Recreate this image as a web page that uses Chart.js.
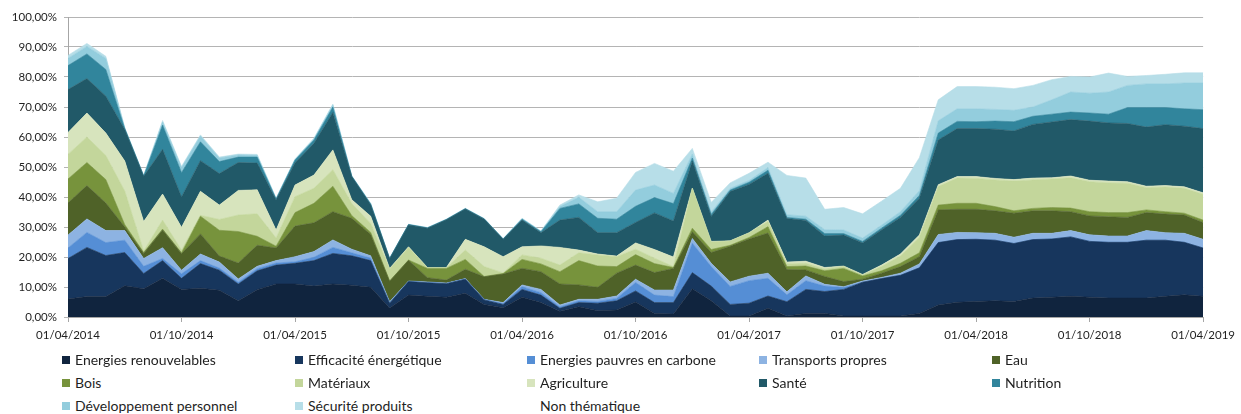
<!DOCTYPE html>
<html><head><meta charset="utf-8">
<script src="https://cdn.jsdelivr.net/npm/chart.js@4.4.0/dist/chart.umd.min.js"></script>
<style>
html,body{margin:0;padding:0;background:#fff;}
#wrap{position:relative;width:1241px;height:414px;overflow:hidden;}
#cbox{position:absolute;left:0;top:0;width:1241px;height:352px;}
.lg{position:absolute;font:14px Lato, sans-serif;color:#1f1f1f;white-space:nowrap;line-height:16px;}
.lg i{position:absolute;left:-13px;top:4px;width:8px;height:8px;}
</style></head><body>
<div id="wrap"><div id="cbox"><canvas id="c"></canvas></div><div id="legend"></div></div>
<script>
const months = ['01/04/2014','01/05/2014','01/06/2014','01/07/2014','01/08/2014','01/09/2014','01/10/2014','01/11/2014','01/12/2014',
'01/01/2015','01/02/2015','01/03/2015','01/04/2015','01/05/2015','01/06/2015','01/07/2015','01/08/2015','01/09/2015','01/10/2015','01/11/2015','01/12/2015',
'01/01/2016','01/02/2016','01/03/2016','01/04/2016','01/05/2016','01/06/2016','01/07/2016','01/08/2016','01/09/2016','01/10/2016','01/11/2016','01/12/2016',
'01/01/2017','01/02/2017','01/03/2017','01/04/2017','01/05/2017','01/06/2017','01/07/2017','01/08/2017','01/09/2017','01/10/2017','01/11/2017','01/12/2017',
'01/01/2018','01/02/2018','01/03/2018','01/04/2018','01/05/2018','01/06/2018','01/07/2018','01/08/2018','01/09/2018','01/10/2018','01/11/2018','01/12/2018',
'01/01/2019','01/02/2019','01/03/2019','01/04/2019'];

const seriesNames = ['Energies renouvelables','Efficacité énergétique','Energies pauvres en carbone','Transports propres','Eau',
'Bois','Matériaux','Agriculture','Santé','Nutrition','Développement personnel','Sécurité produits','Non thématique'];
const seriesColors = ['#10243e','#17365d','#558ed5','#8db3e2','#4f6228','#77933c','#c3d69b','#d7e4bd','#215968','#31859c','#93cddd','#b7dee8','rgba(0,0,0,0)'];

const energiesRenouvelables = [6,6.8,6.8,10.4,9.4,12.9,9.2,9.6,8.9,5.4,
9.1,11,11,10.3,11,10.6,9.9,3,7.3,6.9,
6.6,7.9,4.2,3.1,6.6,4.8,1.9,3.4,2.1,2.3,
5,1.2,1,9.4,5.4,0.3,0.3,2.9,0.3,1.2,
1.2,0.3,0.3,0.3,0.3,1.2,4,4.9,5.2,5.4,
5.2,6.3,6.6,6.9,6.6,6.3,6.3,6.3,6.9,7.4,6.9];
const efficaciteEnergetique = [13.5,16.4,13.7,11.1,5.1,5.9,3.7,8.2,6.7,5.6,
6.3,6.3,6.9,8.5,10.2,9.8,8.9,1.6,4.5,4.5,
4.5,4.7,1.5,1.1,2.6,2.5,1,1.4,2.5,3.1,
3.7,3.6,3.8,5.4,4.9,3.9,4.3,4.1,4.8,8,
7.3,8.9,11.3,12.5,13.6,15.2,20.8,20.9,20.7,20.2,
19.3,19.5,19.4,19.8,18.6,18.6,18.6,19.3,18.7,17.5,16.1];
const energiesPauvresCarbone = [3.5,5,4.3,4.1,2.4,0.7,1.5,1,0.7,0.6,
0.7,0.7,0.5,1.1,2,1,0.8,0.2,0.1,0.1,
0.1,0.1,0.1,0.3,0.9,0.8,0.5,0.6,0.6,0.8,
2.8,2.5,2,9.8,6.5,6,7.5,5.9,2.3,2.9,
1.8,0.6,0,0,0,0,0,0,0,0,
0,0,0,0,0,0,0,0,0,0,0];
const transportsPropres = [4.3,4.5,4,3.2,2.6,3.6,1.2,2.2,2,1.1,
0.8,0.8,1.7,1.9,2.5,1.2,0.8,0.3,0.1,0.2,
0.1,0.1,0.1,0.3,0.6,1.1,0.6,0.5,0.7,0.8,
1.1,1.7,2.2,1.6,1.1,1.5,1.5,1.7,1,1.6,
0.6,0.3,0.4,0.4,0.7,1.3,2.7,2.4,2.2,2.3,
2.1,2.1,1.9,2.1,2.2,2.1,2.1,3.2,2.5,3,2.9];
const eau = [10.7,11.1,9.2,1.2,1.7,5.9,5.5,6.7,2,5.3,
7,4.2,10.2,9.6,9.4,10.3,7.1,6.8,6.9,1.4,
1,3.1,7.5,9.5,5.5,5.9,7,4.8,4,7.6,
4.7,5.8,7.2,2.2,3.6,11.9,12.4,13.4,7.4,2,
2.6,1.7,0.6,1.4,2.2,2.4,8.2,7.7,7.8,7.5,
8,7.5,7.5,6.3,6.3,6.4,6.2,6,6.2,6.1,5.6];
const bois = [8,7.7,7.8,0.8,0.3,0.3,0.3,5.9,8.6,10.5,
3,0.6,4.5,6.5,8.5,0.9,0.7,0.1,0.1,3.1,
3.9,3.3,0.1,0.2,3,2.6,4.1,8.1,7.1,2.2,
3.5,3,0.3,1.2,1,0.3,0.5,2.1,1,1.3,
1.9,4.4,1.1,0.8,1.1,1.3,1.6,2,2,1.4,
0.8,0.8,1.1,1.2,1.4,1.4,1.6,0.9,0.8,0.6,0.8];
const materiaux = [8.2,8.5,8,11.2,0.5,3,0.9,0.3,3.6,5.5,
7.5,2.7,5.3,5,5.5,4,3,4,4.2,0.2,
0.2,3.1,3.3,0.2,1.5,1.9,2.2,2.6,3.7,3.3,
1.8,1.8,0.3,13.3,2.5,1.4,1.5,1.7,0.9,0.9,
0.6,0.6,0.3,1.4,2.4,5.2,6.2,8.4,8.3,8.9,
9.9,9.5,9.5,10.1,10,9.9,9.8,7.4,8.2,8.3,8.6];
const agriculture = [7.3,8,7.5,10,9.8,8.7,7.6,8,4.8,8.2,
8,2.7,3.9,4.4,6.6,1.3,2.4,0.2,0.2,0.1,
0.1,3.6,6.6,5.4,2.7,4.1,5.9,0.9,0.3,0.2,
2.1,2.9,3.2,0.1,0.2,0.1,0.1,0.5,0.6,0.7,
0.5,0.2,0.2,0.5,0.7,0.7,0.6,0.5,0.6,0.5,
0.5,0.6,0.4,0.6,0.5,0.6,0.5,0.5,0.5,0.5,0.5];
const sante = [14.3,11.5,12.3,10.5,15.1,14.9,10.1,10.2,10.5,9.3,
8.9,10,7.4,10.6,12.5,7.7,3.8,3.2,7.3,13.1,
15.9,10.1,9.2,5.8,8.9,4.4,9.1,10.9,7.1,7.8,
6.8,12.2,12,9,8.3,16.4,16.1,15.6,14.5,13.6,
10.5,10.3,10.5,11.7,12.2,12.3,14.9,16,16,16.4,
16.2,17.9,18.6,18.8,19.7,19.4,19.4,19.7,20.3,20.2,21.4];
const nutrition = [8,8.2,8.9,0.3,0.1,8.1,8.1,6.3,4,1.8,
2,0.3,0.9,1.1,1.8,0.1,0.2,0.1,0.1,0.1,
0.1,0.1,0.1,0.1,0.3,0.3,3.9,4.5,4.8,4.5,
5.4,5.1,5.8,1,0.7,0.5,0.7,1,0.4,0.4,
0.8,0.5,0.5,0.6,0.7,0.9,2.3,2.4,2.3,2.7,
3.1,2.7,2.6,2.5,2.7,2.9,5.3,6.5,5.7,5.8,6.3];
const developpementPersonnel = [2.4,2.5,3.7,0.2,0.1,1,1.7,1.9,1.2,0.7,
0.6,0.2,0.2,0.4,0.6,0.1,0.2,0.1,0.1,0.1,
0.1,0.1,0.1,0.1,0.2,0.2,0.6,2.2,2.2,2.5,
5.4,4.2,3.4,1.3,0.8,0.6,0.6,0.9,0.9,1,
1.3,1.2,1.1,1,1.2,1.6,4.1,4.2,4.3,3.9,
3.8,3.1,4.8,6.7,6.6,7.4,7.4,7.9,7.9,8.6,8.9];
const securiteProduits = [1,1,0.7,0.1,0.1,0.5,0.4,0.4,0.3,0.3,
0.3,0.1,0.2,0.2,0.4,0.1,0.1,0,0,0,
0,0,0,0,0.1,0.1,0.5,0.8,3.3,4.5,
5.9,7.2,7.4,1.9,3.2,1.8,2.4,1.8,13.1,12.7,
6.8,7.5,8.1,8,7.8,11,7,7.4,7.4,7.4,
7.2,7.2,6.7,5.2,5.4,6.3,3,2.8,3.2,3.4,3.4];
const nonThematique = [];

const seriesData = [energiesRenouvelables, efficaciteEnergetique, energiesPauvresCarbone, transportsPropres, eau,
  bois, materiaux, agriculture, sante, nutrition, developpementPersonnel, securiteProduits, nonThematique];

const datasets = seriesNames.map((name, k) => ({
  label: name,
  data: seriesData[k],
  backgroundColor: seriesColors[k],
  borderColor: seriesColors[k],
  borderWidth: k === 12 ? 0 : 0.6,
  fill: k === 0 ? 'origin' : '-1',
  pointRadius: 0,
  tension: 0
}));

const FONT = {family: 'Lato', size: 11.5};
new Chart(document.getElementById('c'), {
  type: 'line',
  data: {labels: months, datasets},
  options: {
    responsive: true, maintainAspectRatio: false, animation: false,
    layout: {padding: {left: 0, right: 32, top: 17, bottom: 0}},
    plugins: {legend: {display: false}, tooltip: {enabled: false}},
    scales: {
      x: {
        offset: false,
        grid: {drawOnChartArea: false, drawTicks: true, tickLength: 5,
          color: c => (c.index % 6 === 0) ? '#a6a6a6' : 'rgba(0,0,0,0)'},
        border: {display: true, color: '#a6a6a6'},
        ticks: {autoSkip: false, maxRotation: 0, minRotation: 0, padding: 6, font: FONT, color: '#1f1f1f',
          callback: (v, i) => (i % 6 === 0) ? months[i] : ''},
        afterFit: s => { s.height = 35; }
      },
      y: {
        stacked: true, min: 0, max: 100,
        grid: {color: '#b4b4b4', tickLength: 4},
        border: {display: true, color: '#a6a6a6'},
        ticks: {stepSize: 10, padding: 7, font: FONT, color: '#1f1f1f',
          callback: v => v.toFixed(2).replace('.', ',') + '%'},
        afterFit: s => { s.width = 68; }
      }
    }
  }
});

// legend (5 columns)
const lg = document.getElementById('legend');
const colX = [75, 308, 540, 772, 1005];
const rowY = [352, 375, 398];
seriesNames.forEach((name, k) => {
  const d = document.createElement('div');
  d.className = 'lg';
  d.style.left = colX[k % 5] + 'px';
  d.style.top = rowY[Math.floor(k / 5)] + 'px';
  d.textContent = name;
  if (k !== 12) {
    const b = document.createElement('i');
    b.style.background = seriesColors[k];
    d.appendChild(b);
  }
  lg.appendChild(d);
});
</script>
</body></html>
